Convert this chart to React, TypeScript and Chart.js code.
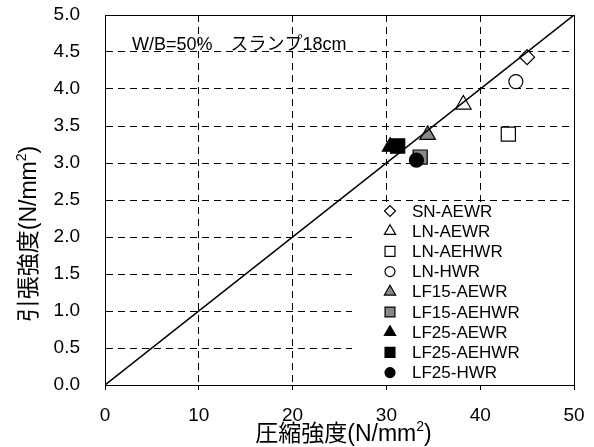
import { useEffect, useRef } from "react";
import { Chart, registerables } from "chart.js";
import { drawPoint } from "chart.js/helpers";

Chart.register(...registerables);

const seriesLabels = [
  "SN-AEWR",
  "LN-AEWR",
  "LN-AEHWR",
  "LN-HWR",
  "LF15-AEWR",
  "LF15-AEHWR",
  "LF25-AEWR",
  "LF25-AEHWR",
  "LF25-HWR",
];
const compressive = [45.0, 38.2, 43.0, 43.8, 34.4, 33.6, 30.4, 31.2, 33.2];
const tensile = [4.43, 3.79, 3.39, 4.1, 3.38, 3.08, 3.22, 3.23, 3.04];
const markerStyles = ["rectRot", "triangle", "rect", "circle", "triangle", "rect", "triangle", "rect", "circle"];
const markerFills = ["#ffffff", "#ffffff", "#ffffff", "#ffffff", "#888888", "#888888", "#000000", "#000000", "#000000"];
const lineX = [0, 50];
const lineY = [0, 5];
const xTickValues = [0, 10, 20, 30, 40, 50];
const yTickValues = [0, 0.5, 1, 1.5, 2, 2.5, 3, 3.5, 4, 4.5, 5];
const xTitle = ["圧縮強度(N/mm", "2", ")"];
const yTitle = ["引張強度(N/mm", "2", ")"];
const note = "W/B=50%　スランプ18cm";

const FONT = "'Liberation Sans', Arial, 'Noto Sans CJK JP', sans-serif";

const plotRadius: Record<string, number> = { rectRot: 7.5, triangle: 9, rect: 10, circle: 7 };
const legendRadius: Record<string, number> = { rectRot: 5.5, triangle: 6.5, rect: 7, circle: 5 };

function drawSupText(ctx: CanvasRenderingContext2D, parts: string[], size: number) {
  const mainFont = `${size}px ${FONT}`;
  const supFont = `${Math.round(size * 0.62)}px ${FONT}`;
  ctx.font = mainFont;
  const w0 = ctx.measureText(parts[0]).width;
  const w2 = ctx.measureText(parts[2]).width;
  ctx.font = supFont;
  const w1 = ctx.measureText(parts[1]).width;
  const total = w0 + w1 + w2;
  let x = -total / 2;
  ctx.textAlign = "left";
  ctx.textBaseline = "middle";
  ctx.font = mainFont;
  ctx.fillText(parts[0], x, 0);
  x += w0;
  ctx.font = supFont;
  ctx.fillText(parts[1], x, -size * 0.32);
  x += w1;
  ctx.font = mainFont;
  ctx.fillText(parts[2], x, 0);
}

const decorPlugin = {
  id: "decor",
  beforeDatasetsDraw(chart: any) {
    const ctx: CanvasRenderingContext2D = chart.ctx;
    const a = chart.chartArea;
    ctx.save();
    ctx.fillStyle = "#fff";
    ctx.fillRect(a.right - 222, a.top + 187, 221, a.bottom - a.top - 188);
    ctx.restore();
  },
  afterDraw(chart: any) {
    const ctx: CanvasRenderingContext2D = chart.ctx;
    const a = chart.chartArea;
    ctx.save();
    ctx.strokeStyle = "#000";
    ctx.lineWidth = 1;
    ctx.setLineDash([]);
    ctx.beginPath();
    ctx.moveTo(a.left, a.top + 0.5);
    ctx.lineTo(a.right + 0.5, a.top + 0.5);
    ctx.lineTo(a.right + 0.5, a.bottom);
    ctx.stroke();

    ctx.fillStyle = "#000";
    ctx.font = `18px ${FONT}`;
    ctx.textAlign = "left";
    ctx.textBaseline = "middle";
    ctx.fillText(note, a.left + 27, a.top + 30);

    const mx = a.right - 184;
    const tx = a.right - 162;
    const y0 = a.top + 196;
    const dy = 20.2;
    chart.data.datasets.forEach((ds: any) => {
      if (ds.hideInLegend) return;
      const y = y0 + dy * ds.legendIndex;
      const style = ds.pointStyle;
      ctx.fillStyle = ds.pointBackgroundColor;
      ctx.strokeStyle = "#000";
      ctx.lineWidth = 1.2;
      drawPoint(ctx, { pointStyle: style, radius: legendRadius[style], rotation: 0, borderWidth: 1.2 }, mx, y);
      ctx.fillStyle = "#000";
      ctx.font = `17px ${FONT}`;
      ctx.textAlign = "left";
      ctx.textBaseline = "middle";
      ctx.fillText(ds.label, tx, y + 1);
    });

    ctx.fillStyle = "#000";
    ctx.save();
    ctx.translate((a.left + a.right) / 2 + 4, a.bottom + 50);
    drawSupText(ctx, xTitle, 23);
    ctx.restore();
    ctx.save();
    ctx.translate(30, a.top + 219);
    ctx.rotate(-Math.PI / 2);
    drawSupText(ctx, yTitle, 23);
    ctx.restore();
    ctx.restore();
  },
};

export default function App() {
  const ref = useRef<HTMLCanvasElement | null>(null);
  useEffect(() => {
    if (!ref.current) return;
    const datasets: any[] = [
      {
        type: "line",
        label: "y=x/10",
        data: lineX.map((x, i) => ({ x, y: lineY[i] })),
        borderColor: "#000",
        borderWidth: 1.5,
        pointRadius: 0,
        showLine: true,
        fill: false,
        order: 0,
        hideInLegend: true,
      },
    ];
    seriesLabels.forEach((label, i) => {
      datasets.push({
        type: "scatter",
        label,
        data: [{ x: compressive[i], y: tensile[i] }],
        pointStyle: markerStyles[i],
        pointRadius: plotRadius[markerStyles[i]],
        pointHoverRadius: plotRadius[markerStyles[i]],
        pointBackgroundColor: markerFills[i],
        pointBorderColor: "#000",
        pointBorderWidth: 1.2,
        order: seriesLabels.length - i,
        legendIndex: i,
      });
    });
    const chart = new Chart(ref.current, {
      type: "scatter",
      data: { datasets },
      options: {
        animation: false,
        responsive: false,
        events: [],
        layout: { padding: { top: 15, right: 20, left: 0, bottom: 0 } },
        plugins: { legend: { display: false }, tooltip: { enabled: false } },
        scales: {
          x: {
            type: "linear",
            min: 0,
            max: 50,
            afterBuildTicks: (s: any) => {
              s.ticks = xTickValues.map((v) => ({ value: v }));
            },
            afterFit: (s: any) => {
              s.height = 62;
              s.paddingLeft = 0;
              s.paddingRight = 0;
              s.paddingTop = 0;
              s.paddingBottom = 0;
            },
            ticks: { color: "#000", font: { family: FONT, size: 19 }, padding: 14, maxRotation: 0 },
            grid: {
              color: "#000",
              lineWidth: 1,
              drawTicks: true,
              tickLength: 5,
              tickColor: "#000",
              tickBorderDash: [],
            },
            border: { display: true, color: "#000", width: 1, dash: [7, 5] },
          },
          y: {
            type: "linear",
            min: 0,
            max: 5,
            afterBuildTicks: (s: any) => {
              s.ticks = yTickValues.map((v) => ({ value: v }));
            },
            afterFit: (s: any) => {
              s.width = 105;
              s.paddingLeft = 0;
              s.paddingRight = 0;
              s.paddingTop = 0;
              s.paddingBottom = 0;
            },
            ticks: {
              color: "#000",
              font: { family: FONT, size: 19 },
              padding: 25,
              callback: (v: any) => Number(v).toFixed(1),
            },
            grid: { color: "#000", lineWidth: 1, drawTicks: false },
            border: { display: true, color: "#000", width: 1, dash: [7, 5] },
          },
        },
      },
      plugins: [decorPlugin],
    } as any);
    return () => chart.destroy();
  }, []);
  return (
    <div style={{ position: "fixed", left: 0, top: 0, width: 594, height: 447, background: "#fff" }}>
      <canvas ref={ref} width={594} height={447} style={{ display: "block", width: 594, height: 447 }} />
    </div>
  );
}
